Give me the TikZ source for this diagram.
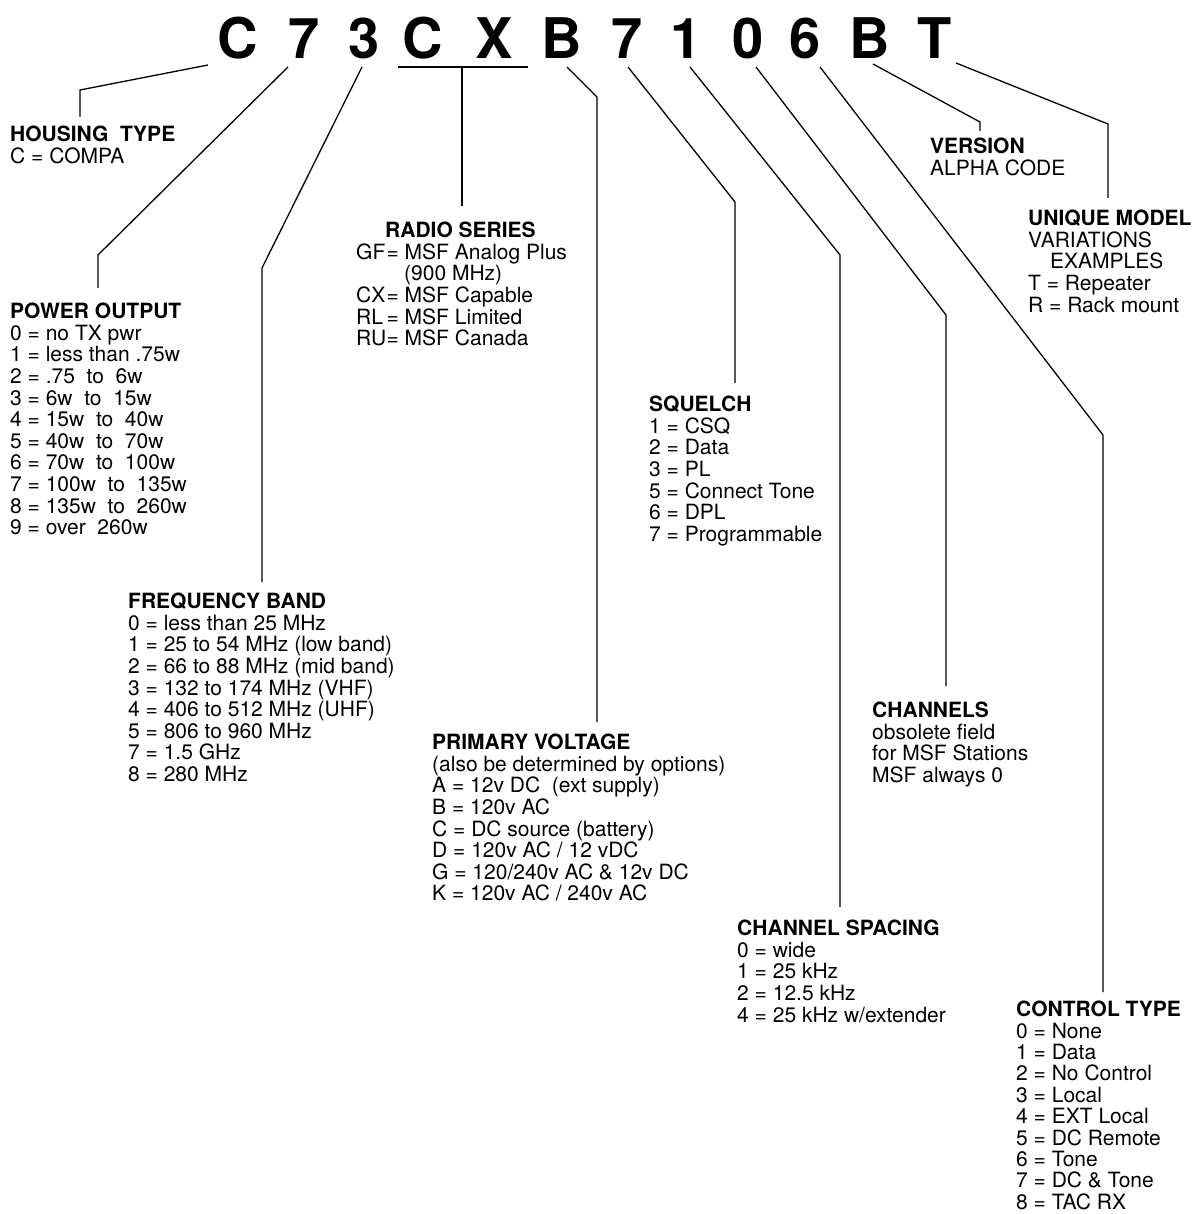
\documentclass[tikz,border=0pt]{standalone}
\usepackage{fontspec}
\setmainfont{TeX Gyre Heros}
\begin{document}
\begin{tikzpicture}[x=1pt,y=-1pt,
  lbl/.style={anchor=north west, inner sep=0pt, align=left, font=\fontsize{21}{21.6}\selectfont},
  big/.style={anchor=base, inner sep=0pt, font=\fontsize{56}{56}\selectfont\bfseries},
  conn/.style={line width=1.3pt, line join=miter}]
\useasboundingbox (0,0) rectangle (1191,1214);
% code letters
\node[big] (L1) at (238,59) {C};
\node[big] (L2) at (304,59) {7};
\node[big] (L3) at (364,59) {3};
\node[big] (L4) at (423,59) {C};
\node[big] (L5) at (494,59) {X};
\node[big] (L6) at (562,59) {B};
\node[big] (L7) at (627,59) {7};
\node[big] (L8) at (686,59) {1};
\node[big] (L9) at (748,59) {0};
\node[big] (L10) at (805,59) {6};
\node[big] (L11) at (870,59) {B};
\node[big] (L12) at (935,59) {T};
% text blocks
\node[lbl] (housing) at (10,126) {\textbf{HOUSING\ \ TYPE}\\C = COMPA};
\node[lbl] (power) at (10,303) {\textbf{POWER OUTPUT}\\0 = no TX pwr\\1 = less than .75w\\2 = .75\ \ to\ \ 6w\\3 = 6w\ \ to\ \ 15w\\4 = 15w\ \ to\ \ 40w\\5 = 40w\ \ to\ \ 70w\\6 = 70w\ \ to\ \ 100w\\7 = 100w\ \ to\ \ 135w\\8 = 135w\ \ to\ \ 260w\\9 = over\ \ 260w};
\node[lbl] (freq) at (128,593) {\textbf{FREQUENCY BAND}\\0 = less than 25 MHz\\1 = 25 to 54 MHz (low band)\\2 = 66 to 88 MHz (mid band)\\3 = 132 to 174 MHz (VHF)\\4 = 406 to 512 MHz (UHF)\\5 = 806 to 960 MHz\\7 = 1.5 GHz\\8 = 280 MHz};
\node[lbl] (radio) at (356,222) {\hspace*{29pt}\textbf{RADIO SERIES}\\\makebox[1.45em][l]{GF}= MSF Analog Plus\\\hspace*{48pt}(900 MHz)\\\makebox[1.45em][l]{CX}= MSF Capable\\\makebox[1.45em][l]{RL}= MSF Limited\\\makebox[1.45em][l]{RU}= MSF Canada};
\node[lbl] (volt) at (432,734) {\textbf{PRIMARY VOLTAGE}\\(also be determined by options)\\A = 12v DC\ \ (ext supply)\\B = 120v AC\\C = DC source (battery)\\D = 120v AC / 12 vDC\\G = 120/240v AC \& 12v DC\\K = 120v AC / 240v AC};
\node[lbl] (squelch) at (649,396) {\textbf{SQUELCH}\\1 = CSQ\\2 = Data\\3 = PL\\5 = Connect Tone\\6 = DPL\\7 = Programmable};
\node[lbl] (spacing) at (737,920) {\textbf{CHANNEL SPACING}\\0 = wide\\1 = 25 kHz\\2 = 12.5 kHz\\4 = 25 kHz w/extender};
\node[lbl] (channels) at (872,702) {\textbf{CHANNELS}\\obsolete field\\for MSF Stations\\MSF always 0};
\node[lbl, font=\fontsize{21}{21.4}\selectfont] (control) at (1016,1001) {\textbf{CONTROL TYPE}\\0 = None\\1 = Data\\2 = No Control\\3 = Local\\4 = EXT Local\\5 = DC Remote\\6 = Tone\\7 = DC \& Tone\\8 = TAC RX};
\node[lbl] (version) at (930,138) {\textbf{VERSION}\\ALPHA CODE};
\node[lbl] (unique) at (1028,210) {\textbf{UNIQUE MODEL}\\VARIATIONS\\\hspace*{22pt}EXAMPLES\\T = Repeater\\R = Rack mount};
% connector points
\coordinate (s1) at (208,65);  \coordinate (c1) at (80,90);   \coordinate (e1) at (80,117);
\coordinate (s2) at (288,67);  \coordinate (c2) at (98,255);  \coordinate (e2) at (98,288);
\coordinate (s3) at (362,67);  \coordinate (c3) at (262,268); \coordinate (e3) at (262,582);
\coordinate (bl) at (398,67);  \coordinate (br) at (528,67);  \coordinate (bm) at (462,67); \coordinate (e4) at (462,206);
\coordinate (s5) at (567,67);  \coordinate (c5) at (597,97);  \coordinate (e5) at (597,722);
\coordinate (s6) at (628,67);  \coordinate (c6) at (735,202); \coordinate (e6) at (735,383);
\coordinate (s7) at (690,67);  \coordinate (c7) at (840,255); \coordinate (e7) at (840,907);
\coordinate (s8) at (756,67);  \coordinate (c8) at (946,315); \coordinate (e8) at (946,686);
\coordinate (s9) at (820,67);  \coordinate (c9) at (1103,435);\coordinate (e9) at (1103,992);
\coordinate (s10) at (873,64); \coordinate (c10) at (980,122);\coordinate (e10) at (980,131);
\coordinate (s11) at (956,63); \coordinate (c11) at (1108,124);\coordinate (e11) at (1108,198);
\draw[conn] (s1) -- (c1) -- (e1);
\draw[conn] (s2) -- (c2) -- (e2);
\draw[conn] (s3) -- (c3) -- (e3);
\draw[conn] (bl) -- (br);
\draw[conn] (bm) -- (e4);
\draw[conn] (s5) -- (c5) -- (e5);
\draw[conn] (s6) -- (c6) -- (e6);
\draw[conn] (s7) -- (c7) -- (e7);
\draw[conn] (s8) -- (c8) -- (e8);
\draw[conn] (s9) -- (c9) -- (e9);
\draw[conn] (s10) -- (c10) -- (e10);
\draw[conn] (s11) -- (c11) -- (e11);
\end{tikzpicture}
\end{document}
